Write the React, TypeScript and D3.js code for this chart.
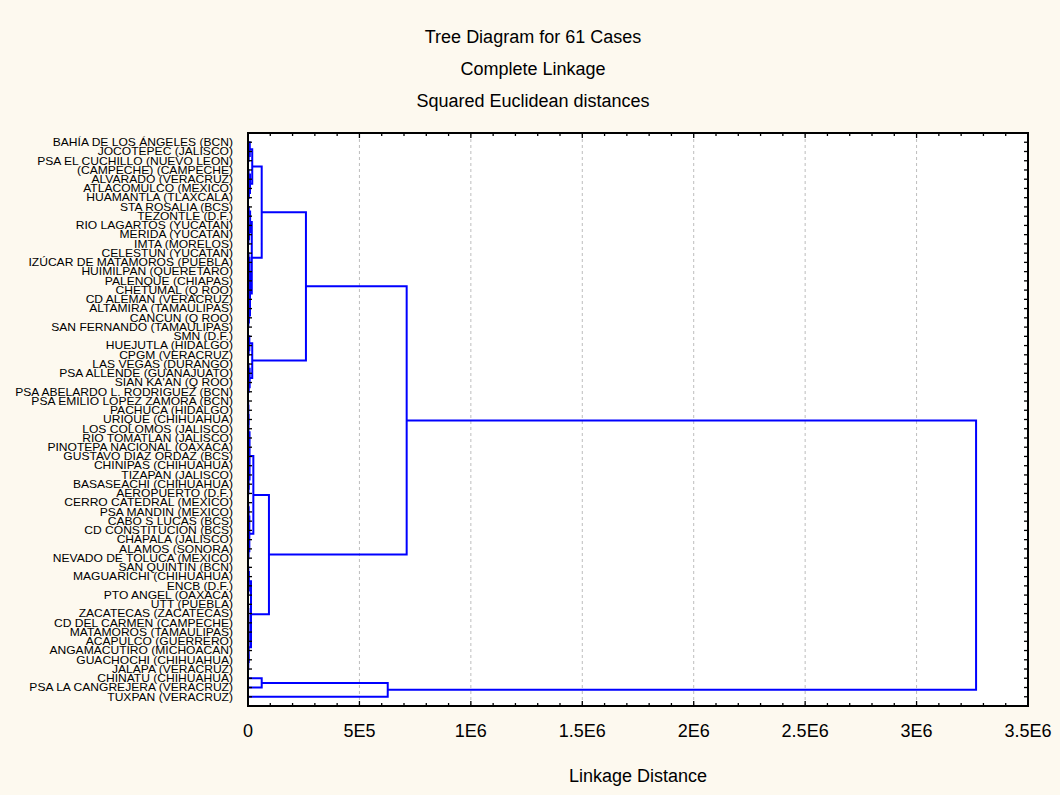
import React from "react";
import * as d3 from "d3";

const titleLines = ["Tree Diagram for 61 Cases", "Complete Linkage", "Squared Euclidean distances"];
const xAxisTitle = "Linkage Distance";
const xTickValues = [0, 5e5, 1e6, 1.5e6, 2e6, 2.5e6, 3e6, 3.5e6];
const xTickLabels = ["0", "5E5", "1E6", "1.5E6", "2E6", "2.5E6", "3E6", "3.5E6"];

const leafLabels = [
  "BAHÍA DE LOS ÁNGELES (BCN)",
  "JOCOTEPEC (JALISCO)",
  "PSA EL CUCHILLO (NUEVO LEON)",
  "(CAMPECHE) (CAMPECHE)",
  "ALVARADO (VERACRUZ)",
  "ATLACOMULCO (MEXICO)",
  "HUAMANTLA (TLAXCALA)",
  "STA ROSALIA (BCS)",
  "TEZONTLE (D.F.)",
  "RIO LAGARTOS (YUCATAN)",
  "MERIDA (YUCATAN)",
  "IMTA (MORELOS)",
  "CELESTUN (YUCATAN)",
  "IZÚCAR DE MATAMOROS (PUEBLA)",
  "HUIMILPAN (QUERETARO)",
  "PALENQUE (CHIAPAS)",
  "CHETUMAL (Q ROO)",
  "CD ALEMAN (VERACRUZ)",
  "ALTAMIRA (TAMAULIPAS)",
  "CANCUN (Q ROO)",
  "SAN FERNANDO (TAMAULIPAS)",
  "SMN (D.F.)",
  "HUEJUTLA (HIDALGO)",
  "CPGM (VERACRUZ)",
  "LAS VEGAS (DURANGO)",
  "PSA ALLENDE (GUANAJUATO)",
  "SIAN KA'AN (Q ROO)",
  "PSA ABELARDO L. RODRIGUEZ (BCN)",
  "PSA EMILIO LOPEZ ZAMORA (BCN)",
  "PACHUCA (HIDALGO)",
  "URIQUE (CHIHUAHUA)",
  "LOS COLOMOS (JALISCO)",
  "RIO TOMATLAN (JALISCO)",
  "PINOTEPA NACIONAL (OAXACA)",
  "GUSTAVO DIAZ ORDAZ (BCS)",
  "CHINIPAS (CHIHUAHUA)",
  "TIZAPAN (JALISCO)",
  "BASASEACHI (CHIHUAHUA)",
  "AEROPUERTO (D.F.)",
  "CERRO CATEDRAL (MEXICO)",
  "PSA MANDIN (MEXICO)",
  "CABO S LUCAS (BCS)",
  "CD CONSTITUCION (BCS)",
  "CHAPALA (JALISCO)",
  "ALAMOS (SONORA)",
  "NEVADO DE TOLUCA (MEXICO)",
  "SAN QUINTIN (BCN)",
  "MAGUARICHI (CHIHUAHUA)",
  "ENCB (D.F.)",
  "PTO ANGEL (OAXACA)",
  "UTT (PUEBLA)",
  "ZACATECAS (ZACATECAS)",
  "CD DEL CARMEN (CAMPECHE)",
  "MATAMOROS (TAMAULIPAS)",
  "ACAPULCO (GUERRERO)",
  "ANGAMACUTIRO (MICHOACAN)",
  "GUACHOCHI (CHIHUAHUA)",
  "JALAPA (VERACRUZ)",
  "CHINATU (CHIHUAHUA)",
  "PSA LA CANGREJERA (VERACRUZ)",
  "TUXPAN (VERACRUZ)",
];

// Linkage table: [childA, childB, distance]; ids 0..60 are leaves, merge k creates node 61+k
const mergeChildA = [1, 0, 3, 5, 63, 62, 7, 10, 9, 67, 12, 14, 16, 72, 71, 19, 18, 75, 70, 66, 22, 21, 24, 26, 83, 82, 80, 28, 30, 88, 32, 91, 90, 35, 37, 94, 93, 39, 41, 98, 43, 101, 100, 97, 46, 48, 105, 50, 108, 109, 110, 55, 112, 111, 107, 104, 87, 58, 118, 117];
const mergeChildB = [2, 61, 4, 6, 64, 65, 8, 11, 68, 69, 13, 15, 17, 73, 74, 20, 76, 77, 78, 79, 23, 81, 25, 27, 84, 85, 86, 29, 31, 89, 33, 34, 92, 36, 38, 95, 96, 40, 42, 99, 44, 45, 102, 103, 47, 49, 106, 51, 52, 53, 54, 56, 57, 113, 114, 115, 116, 59, 60, 119];
const mergeHeights = [3000, 8000, 2500, 4000, 9000, 19000, 3500, 2000, 5000, 9500, 2500, 1500, 3000, 5500, 7000, 1500, 4000, 9000, 17000, 61500, 3000, 6000, 2500, 3500, 7500, 19000, 260000, 800, 600, 1500, 700, 1200, 2200, 1500, 2000, 3000, 7000, 1000, 1500, 3000, 1200, 2500, 6000, 24000, 1500, 1000, 4000, 800, 1200, 1600, 2000, 700, 1300, 3000, 13500, 94000, 712000, 61500, 627000, 3267000];

const W = 1060;
const H = 795;
const plotL = 248;
const plotR = 1028;
const plotT = 133;
const plotB = 706;
const FONT = "'Liberation Sans', Arial, Helvetica, sans-serif";

export default function App() {
  const n = leafLabels.length;
  const x = d3.scaleLinear().domain([0, 3.5e6]).range([plotL, plotR]);
  const y = d3.scaleLinear().domain([0, n + 1]).range([plotT, plotB]);

  const nodeX: number[] = [];
  const nodeY: number[] = [];
  for (let i = 0; i < n; i++) {
    nodeX.push(x(0));
    nodeY.push(y(i + 1));
  }
  const paths: string[] = [];
  mergeHeights.forEach((h, k) => {
    const a = mergeChildA[k];
    const b = mergeChildB[k];
    const xm = x(h);
    const ya = nodeY[a];
    const yb = nodeY[b];
    const p = d3.path();
    p.moveTo(nodeX[a], ya);
    p.lineTo(xm, ya);
    p.lineTo(xm, yb);
    p.lineTo(nodeX[b], yb);
    paths.push(p.toString());
    nodeX.push(xm);
    nodeY.push((ya + yb) / 2);
  });

  const minorTicks = d3.range(0, 3.5e6 + 1, 1e5);
  const gridTicks = xTickValues.filter((v) => v > 0 && v < 3.5e6);

  return (
    <svg
      width={W}
      height={H}
      style={{ position: "absolute", left: 0, top: 0, display: "block" }}
      fontFamily={FONT}
    >
      <rect x={0} y={0} width={W} height={H} fill="#FDF9EF" />
      <rect x={plotL} y={plotT} width={plotR - plotL} height={plotB - plotT} fill="#ffffff" />

      {titleLines.map((t, i) => (
        <text key={t} x={533} y={43 + i * 32} textAnchor="middle" fontSize={18} fill="#000">
          {t}
        </text>
      ))}

      {gridTicks.map((v) => (
        <line
          key={"g" + v}
          x1={x(v)}
          x2={x(v)}
          y1={plotT}
          y2={plotB}
          stroke="#bdbdbd"
          strokeWidth={1}
          strokeDasharray="3,3"
        />
      ))}

      <g fill="none" stroke="#0000FF" strokeWidth={2} strokeLinejoin="miter">
        {paths.map((d, i) => (
          <path key={i} d={d} />
        ))}
      </g>

      <g stroke="#000" strokeWidth={1.3}>
        {minorTicks.map((v, i) => {
          const major = i % 5 === 0;
          const len = major ? 5 : 3;
          return (
            <g key={"t" + i}>
              <line x1={x(v)} x2={x(v)} y1={plotB} y2={plotB - len} />
              <line x1={x(v)} x2={x(v)} y1={plotT} y2={plotT + len} />
            </g>
          );
        })}
        {leafLabels.map((_, i) => (
          <g key={"l" + i}>
            <line x1={plotL} x2={plotL + 4} y1={y(i + 1)} y2={y(i + 1)} />
            <line x1={plotR} x2={plotR - 4} y1={y(i + 1)} y2={y(i + 1)} />
          </g>
        ))}
      </g>

      <rect
        x={plotL}
        y={plotT}
        width={plotR - plotL}
        height={plotB - plotT}
        fill="none"
        stroke="#000"
        strokeWidth={2}
      />

      <g transform="translate(233,0) scale(1.15,1)">
        {leafLabels.map((lab, i) => (
          <text key={lab} x={0} y={y(i + 1) + 3.8} textAnchor="end" fontSize={10.5} fill="#000">
            {lab}
          </text>
        ))}
      </g>

      {xTickValues.map((v, i) => (
        <text key={"xl" + i} x={x(v)} y={737} textAnchor="middle" fontSize={18} fill="#000">
          {xTickLabels[i]}
        </text>
      ))}

      <text x={(plotL + plotR) / 2} y={782} textAnchor="middle" fontSize={18} fill="#000">
        {xAxisTitle}
      </text>
    </svg>
  );
}
